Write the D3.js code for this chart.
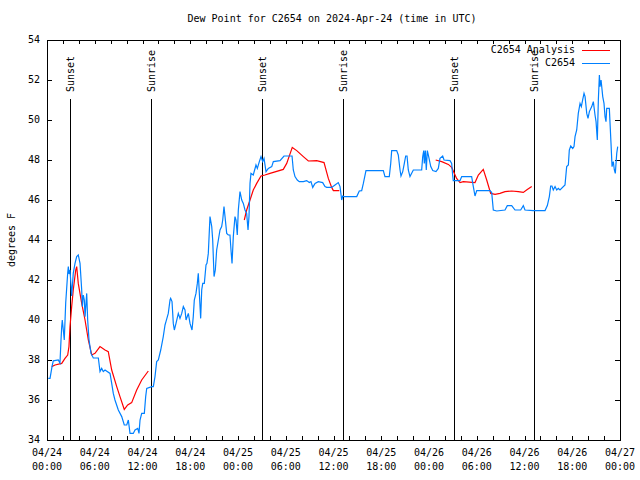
<!DOCTYPE html>
<html>
<head>
<meta charset="utf-8">
<script src="https://cdn.jsdelivr.net/npm/d3@7"></script>
<style>
  html, body { margin: 0; padding: 0; background: #fff; }
  svg { display: block; }
  text { font-family: "DejaVu Sans Mono", "Liberation Mono", monospace; font-size: 10px; fill: #000; }
</style>
</head>
<body>
<svg id="chart" width="640" height="480"></svg>
<script>
// ---- data (hours after 2024-04-24 00:00 UTC, degrees F) ----
const title = "Dew Point for C2654 on 2024-Apr-24 (time in UTC)";
const yLabel = "degrees F";
const seriesNames = ["C2654 Analysis", "C2654"];
const seriesColors = ["#ff0000", "#0080ff"];
const yTicks = [34, 36, 38, 40, 42, 44, 46, 48, 50, 52, 54];

const obsHours = [0.16,0.38,0.63,0.79,1.42,1.63,1.76,1.85,1.92,2.05,2.17,2.35,2.6,2.68,2.76,2.89,3.1,3.3,3.52,3.73,3.93,4.15,4.36,4.44,4.56,4.69,4.78,4.99,5.11,5.28,5.53,5.82,6.45,6.66,6.87,7.07,7.29,7.92,8.13,8.33,8.54,8.96,9.39,9.71,10.02,10.22,10.43,10.84,11.06,11.4,11.56,11.69,11.9,12.23,12.4,12.53,13.16,13.36,13.57,13.78,13.99,14.29,14.61,14.83,14.95,15.24,15.46,15.54,15.71,15.87,16.0,16.21,16.5,16.71,16.93,17.13,17.34,17.47,17.76,17.97,18.22,18.38,18.51,18.72,18.89,19.01,19.23,19.31,19.44,19.57,19.77,19.98,20.1,20.27,20.48,20.7,20.82,20.99,21.15,21.32,21.53,21.74,21.95,22.08,22.24,22.37,22.58,22.78,22.99,23.12,23.25,23.41,23.62,23.75,23.91,24.04,24.25,24.47,24.67,24.88,25.09,25.26,25.38,25.51,25.63,25.92,26.26,26.43,26.68,26.89,27.1,27.27,27.52,27.81,28.24,28.44,29.28,29.78,30.54,30.79,30.95,31.16,31.45,31.7,32.21,32.63,32.96,33.17,33.39,33.68,34.09,34.64,34.93,35.15,35.77,36.19,36.6,36.82,37.03,37.16,37.32,38.92,39.24,39.54,39.75,40.08,42.26,42.47,43.01,43.19,43.31,43.94,44.14,44.36,44.48,44.7,44.9,45.07,45.24,45.4,45.61,46.03,47.08,47.21,47.34,47.41,47.54,47.66,47.79,47.96,48.22,48.47,48.88,49.17,49.38,49.72,49.89,50.64,50.85,50.97,51.05,51.9,52.11,53.36,53.57,53.78,54.0,55.67,55.88,56.08,56.51,57.55,57.84,58.39,58.81,59.52,59.85,60.06,61.11,62.58,62.87,63.12,63.29,63.45,63.62,63.84,64.05,64.25,64.46,65.09,65.3,65.51,65.63,65.81,66.06,66.22,66.35,66.56,66.76,66.98,67.14,67.32,67.48,67.61,67.82,67.98,68.15,68.45,68.65,68.86,68.99,69.15,69.28,69.41,69.49,69.62,69.83,69.99,70.12,70.24,70.33,70.66,70.87,71.0,71.16,71.29,71.41,71.59,71.71];
const obsValues = [37.08,37.08,37.67,37.96,38.0,37.85,39.0,39.67,40.0,39.5,39.0,40.85,42.35,42.67,42.3,42.5,41.2,42.33,42.83,43.17,43.25,42.83,41.5,40.67,41.25,41.0,40.17,41.33,40.0,39.0,38.33,38.1,38.1,37.42,37.58,37.42,37.5,37.33,36.83,36.33,36.0,35.5,35.17,34.75,34.75,35.0,34.33,34.33,34.5,34.58,34.33,35.0,35.33,35.33,36.17,36.58,36.67,36.67,37.17,37.92,38.0,38.5,39.17,39.75,39.92,40.33,41.0,41.08,40.92,39.83,39.5,39.83,40.33,40.08,40.33,40.67,40.5,40.0,40.33,39.83,39.5,40.17,41.0,41.33,41.83,42.33,40.67,40.08,41.5,41.83,41.83,42.75,42.83,43.33,45.17,44.67,44.0,42.17,42.5,43.5,44.0,44.5,44.67,45.0,45.67,45.17,44.33,44.25,44.25,43.5,42.83,44.17,45.17,45.0,44.25,45.5,46.42,46.0,45.83,45.5,45.33,44.5,45.17,46.83,47.33,47.25,47.75,47.58,47.92,48.17,47.92,48.08,47.42,47.58,47.67,47.92,47.97,48.2,48.2,48.2,47.5,47.17,47.0,46.92,46.92,46.97,46.87,46.92,46.63,46.83,46.92,46.87,46.67,46.63,46.63,46.75,46.87,46.67,46.0,46.2,46.17,46.17,46.45,46.47,46.83,47.47,47.47,47.17,47.17,47.83,48.47,48.47,48.25,47.5,47.2,47.42,47.83,48.2,48.2,47.5,47.17,47.5,47.5,48.17,48.47,47.83,48.47,47.5,48.47,48.17,47.67,47.47,47.42,47.58,48.08,48.2,48.0,47.97,47.83,47.25,46.97,46.97,47.17,47.17,46.67,46.2,46.47,46.47,46.37,45.5,45.45,45.5,45.72,45.72,45.5,45.5,45.72,45.5,45.47,45.47,45.72,46.17,46.7,46.7,46.5,46.67,46.5,46.58,46.5,46.75,47.67,47.75,48.5,48.7,48.58,48.67,49.17,49.5,50.33,50.83,50.67,51.03,51.33,51.17,50.33,50.08,50.42,50.67,50.92,50.25,49.92,49.0,51.0,52.25,51.67,52.0,51.17,50.83,50.17,49.92,50.58,50.58,48.83,47.67,47.92,47.5,47.33,48.33,48.67];

// null value = gap in the analysis line
const anaHours = [0.59,1.01,1.85,2.26,2.6,2.76,2.89,3.1,3.3,3.61,3.73,3.93,4.36,4.78,5.19,5.62,6.03,6.66,7.29,7.7,8.13,8.76,9.17,9.71,10.14,10.64,11.27,11.9,12.73,18.0,24.79,25.09,25.51,25.92,26.35,26.89,27.39,28.02,29.69,30.12,30.82,31.38,32.21,32.84,33.89,34.81,35.35,35.77,35.98,36.73,42.0,48.84,49.6,50.43,50.85,51.47,51.9,52.31,53.78,54.2,54.82,55.25,55.75,56.3,56.92,57.55,58.39,59.22,59.85,60.35,60.91];
const anaValues = [37.67,37.75,37.83,38.08,38.25,38.67,39.67,40.67,41.5,42.5,42.67,41.83,40.83,40.0,39.0,38.25,38.33,38.67,38.5,38.42,37.5,36.67,36.17,35.53,35.75,35.87,36.5,37.0,37.45,null,45.0,45.5,46.0,46.5,46.83,47.2,47.25,47.33,47.53,47.83,48.63,48.47,48.17,47.95,47.97,47.87,47.08,46.63,46.47,46.47,null,48.0,47.92,47.78,47.63,47.08,46.87,46.92,46.87,47.25,47.53,47.0,46.33,46.28,46.33,46.42,46.45,46.42,46.38,46.53,46.67];

const eventLabels = ["Sunset", "Sunrise", "Sunset", "Sunrise", "Sunset", "Sunrise"];
const eventHours = [2.93, 13.07, 27.06, 37.24, 51.19, 61.24];

// ---- layout ----
const svg = d3.select("#chart");
const W = 640, H = 480;
const m = { left: 47, right: 20, top: 40, bottom: 40 };
const x0 = m.left, x1 = W - m.right, y0 = m.top, y1 = H - m.bottom;

const start = new Date(Date.UTC(2024, 3, 24, 0, 0));
const end = new Date(Date.UTC(2024, 3, 27, 0, 0));
const t = h => new Date(start.getTime() + h * 3600e3);

const x = d3.scaleUtc().domain([start, end]).range([x0, x1]);
const y = d3.scaleLinear().domain([34, 54]).range([y1, y0]);

// title
svg.append("text").attr("x", 332).attr("y", 19).attr("text-anchor", "middle")
  .attr("dominant-baseline", "middle").text(title);

// y label
svg.append("text").attr("transform", `translate(12,240) rotate(-90)`)
  .attr("text-anchor", "middle").attr("dominant-baseline", "middle").text(yLabel);

const g = svg.append("g");

// y ticks (left and right, inward)
yTicks.forEach(v => {
  const yy = Math.round(y(v)) + 0.5;
  g.append("line").attr("x1", x0).attr("x2", x0 + 5).attr("y1", yy).attr("y2", yy)
    .attr("stroke", "#000").attr("shape-rendering", "crispEdges");
  g.append("line").attr("x1", x1 - 5).attr("x2", x1).attr("y1", yy).attr("y2", yy)
    .attr("stroke", "#000").attr("shape-rendering", "crispEdges");
  g.append("text").attr("x", 40).attr("y", y(v)).attr("text-anchor", "end")
    .attr("dominant-baseline", "middle").text(v);
});

// x ticks every 2h, labels every 6h
const minor = x.ticks(d3.utcHour.every(2));
minor.forEach(d => {
  const xx = Math.round(x(d)) + 0.5;
  g.append("line").attr("x1", xx).attr("x2", xx).attr("y1", y1).attr("y2", y1 - 4)
    .attr("stroke", "#000").attr("shape-rendering", "crispEdges");
  g.append("line").attr("x1", xx).attr("x2", xx).attr("y1", y0).attr("y2", y0 + 4)
    .attr("stroke", "#000").attr("shape-rendering", "crispEdges");
});
const major = x.ticks(d3.utcHour.every(6));
const fDate = d3.utcFormat("%m/%d"), fTime = d3.utcFormat("%H:%M");
major.forEach(d => {
  g.append("text").attr("x", x(d)).attr("y", 453).attr("text-anchor", "middle")
    .attr("dominant-baseline", "middle").text(fDate(d));
  g.append("text").attr("x", x(d)).attr("y", 467).attr("text-anchor", "middle")
    .attr("dominant-baseline", "middle").text(fTime(d));
});

// event lines
eventHours.forEach((h, i) => {
  const xx = Math.round(x(t(h))) + 0.5;
  g.append("line").attr("x1", xx).attr("x2", xx).attr("y1", 99).attr("y2", y1)
    .attr("stroke", "#000").attr("stroke-width", 1.3).attr("shape-rendering", "crispEdges");
  g.append("text").attr("transform", `translate(${xx},92) rotate(-90)`)
    .attr("text-anchor", "start").attr("dominant-baseline", "middle").text(eventLabels[i]);
});

// data lines
const line = d3.line().defined(d => d[1] != null)
  .x(d => x(t(d[0]))).y(d => y(d[1]));
const anaData = anaHours.map((h, i) => [h, anaValues[i]]);
const obsData = obsHours.map((h, i) => [h, obsValues[i]]);

g.append("path").datum(anaData).attr("d", line).attr("fill", "none")
  .attr("stroke", seriesColors[0]).attr("stroke-width", 1.2);
g.append("path").datum(obsData).attr("d", line).attr("fill", "none")
  .attr("stroke", seriesColors[1]).attr("stroke-width", 1.2);

// legend
[0, 1].forEach(i => {
  const ly = 50 + i * 13;
  svg.append("text").attr("x", 575).attr("y", ly).attr("text-anchor", "end")
    .attr("dominant-baseline", "middle").text(seriesNames[i]);
  svg.append("line").attr("x1", 582).attr("x2", 610).attr("y1", ly + 0.5).attr("y2", ly + 0.5)
    .attr("stroke", seriesColors[i]).attr("stroke-width", 1).attr("shape-rendering", "crispEdges");
});

// border
svg.append("rect").attr("x", x0 + 0.5).attr("y", y0 + 0.5).attr("width", x1 - x0)
  .attr("height", y1 - y0).attr("fill", "none").attr("stroke", "#000")
  .attr("shape-rendering", "crispEdges");
</script>
</body>
</html>
